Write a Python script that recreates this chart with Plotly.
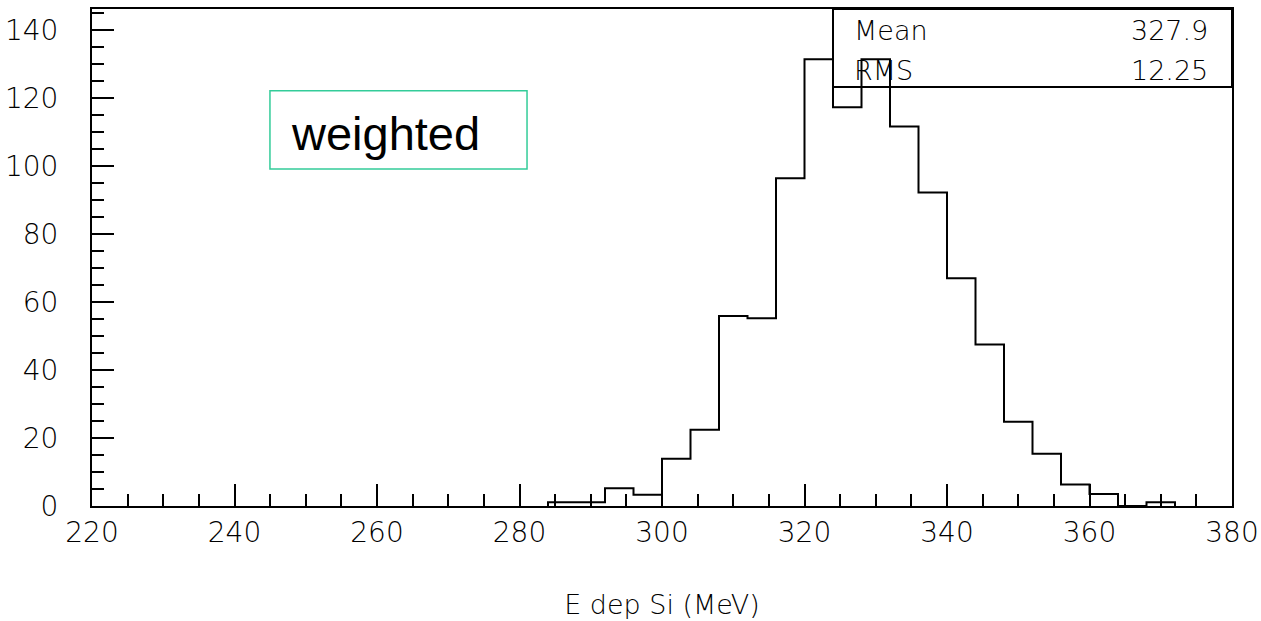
import plotly.graph_objects as go

# Weighted energy deposit in silicon, 4 MeV bins (left edges) and weighted counts
bin_left = [284, 288, 292, 296, 300, 304, 308, 312, 316, 320, 324, 328,
            332, 336, 340, 344, 348, 352, 356, 360, 364, 368]
counts = [1.1, 1.1, 5.2, 3.3, 13.9, 22.4, 55.9, 55.2, 96.4, 131.4, 117.3, 131.4,
          111.6, 92.2, 67.0, 47.5, 24.8, 15.4, 6.3, 3.5, 0.0, 1.1]
bin_width = 4

stat_labels = ["Mean", "RMS"]
stat_values = ["327.9", "12.25"]
tag_text = "weighted"

x_title = "E dep Si (MeV)"
x_range = [220, 380]
y_range = [0, 146.2]

root_font = "DejaVu Sans"
ink = "black"

# step outline: rise at the first edge, fall after the last bin
xs = [bin_left[0]] + bin_left + [bin_left[-1] + bin_width]
ys = [0] + counts + [0]

fig = go.Figure()
fig.add_trace(go.Scatter(
    x=xs, y=ys, mode="lines", line=dict(color="black", width=2, shape="hv"),
    hoverinfo="skip", showlegend=False,
))

axis_common = dict(
    showgrid=False, zeroline=False, showline=True, linecolor="black", linewidth=2,
    mirror=True, ticks="inside", ticklen=22, tickwidth=2, tickcolor="black",
    automargin=False,
    tickfont=dict(family=root_font, size=28, color=ink, weight=200),
)

fig.update_xaxes(
    range=x_range, dtick=20, tick0=220, ticklabelstandoff=0,
    minor=dict(dtick=5, ticklen=12, tickwidth=2, tickcolor="black", ticks="inside"),
    title=dict(text=x_title, font=dict(family=root_font, size=27, color=ink, weight=200),
               standoff=48),
    **axis_common,
)
fig.update_yaxes(
    range=y_range, dtick=20, tick0=0, ticklabelstandoff=26,
    minor=dict(dtick=5, ticklen=12, tickwidth=2, tickcolor="black", ticks="inside"),
    **axis_common,
)

# statistics box in the upper right corner (unfilled)
fig.add_shape(type="rect", xref="paper", yref="paper", x0=0.65, x1=1.0, y0=0.843, y1=1.0,
              line=dict(color="black", width=2), fillcolor="rgba(0,0,0,0)", layer="above")
stat_y = [0.956, 0.877]
for lab, val, yy in zip(stat_labels, stat_values, stat_y):
    fig.add_annotation(xref="paper", yref="paper", x=0.667, y=yy, text=lab, showarrow=False,
                       xanchor="left", yanchor="middle",
                       font=dict(family=root_font, size=27, color=ink, weight=200))
    fig.add_annotation(xref="paper", yref="paper", x=0.981, y=yy, text=val, showarrow=False,
                       xanchor="right", yanchor="middle",
                       font=dict(family=root_font, size=27, color=ink, weight=200))

# "weighted" tag
fig.add_shape(type="rect", xref="paper", yref="paper", x0=0.1561, x1=0.3816, y0=0.678, y1=0.8356,
              line=dict(color="#33cc99", width=1.5), fillcolor="white", layer="above")
fig.add_annotation(xref="paper", yref="paper", x=0.1728, y=0.7505, text=tag_text, showarrow=False,
                   xanchor="left", yanchor="middle",
                   font=dict(family="Liberation Sans", size=47, color="black"))

fig.update_layout(
    width=1261, height=621,
    margin=dict(l=92, r=29, t=9, b=115),
    paper_bgcolor="white", plot_bgcolor="white",
    showlegend=False,
)

fig.write_html("out.html")
